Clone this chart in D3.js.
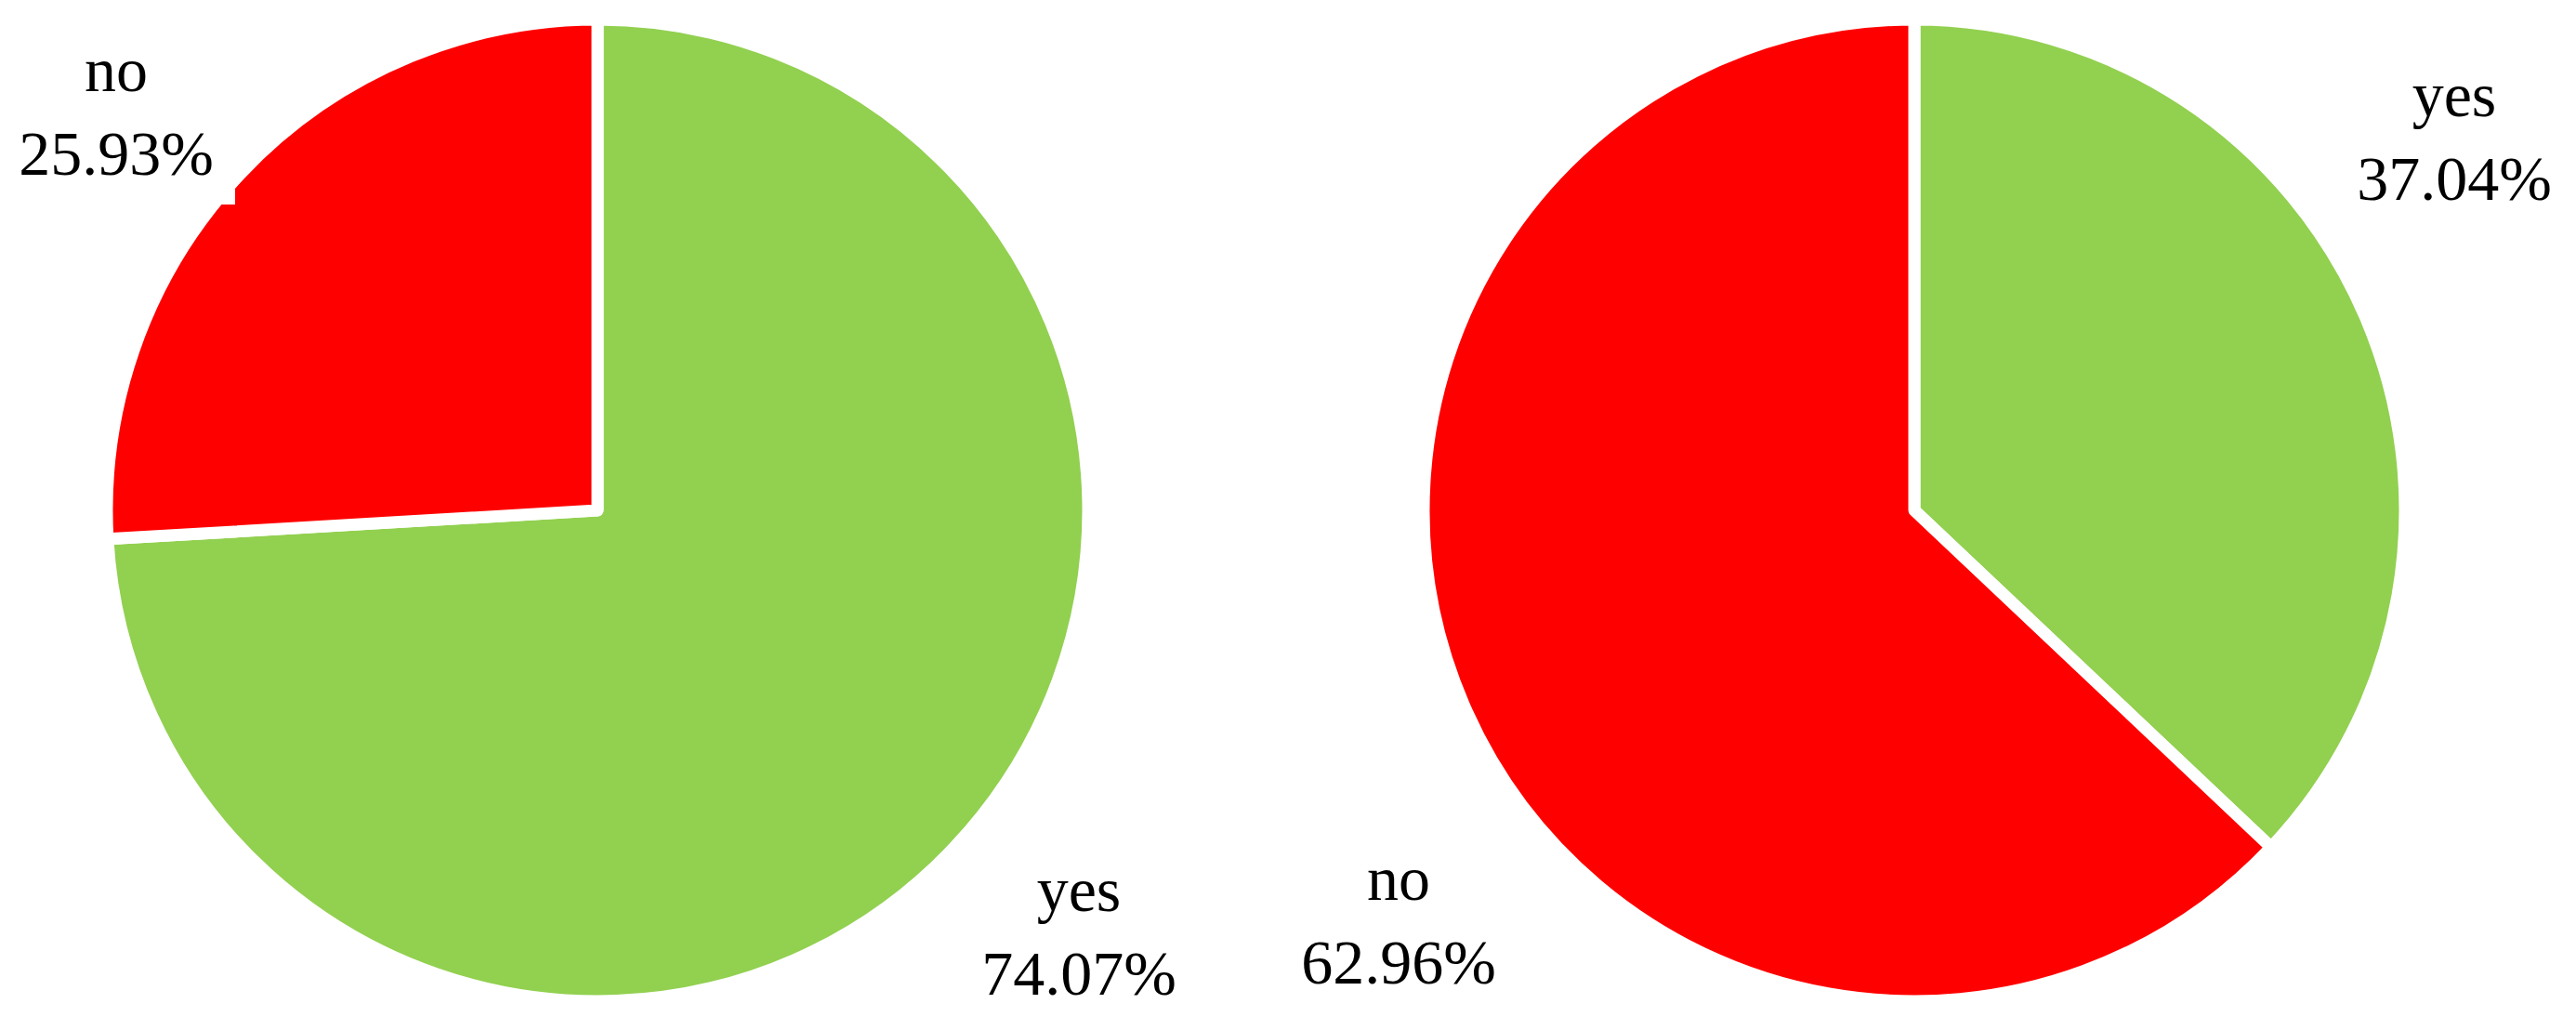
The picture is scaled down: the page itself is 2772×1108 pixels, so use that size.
<!DOCTYPE html>
<html lang="en">
<head>
    <meta charset="UTF-8">
    <title>yes / no pies</title>
    <style>
        body { margin: 0; background: #fff; }
        .slices path {
            stroke: #fff;
            stroke-width: 13px;
            stroke-linejoin: round;
        }
        .labels text {
            font-family: "Liberation Serif", "DejaVu Serif", serif;
            font-size: 68px;
            fill: #000;
        }
    </style>
</head>
<body>
    <script src="https://cdn.jsdelivr.net/npm/d3@7"></script>
    <script>
        var width = 2772;
        var height = 1108;

        // data
        var categories = ["yes", "no"];
        var leftValues = [74.07, 25.93];
        var rightValues = [37.04, 62.96];
        var colors = ["#92d050", "#ff0000"];

        // layout: pie centres and where each label sits (first-line baseline)
        var pies = [
            { values: leftValues, cx: 643, cy: 549,
              labels: [{ x: 1161, y: 980 }, { x: 125, y: 98, box: [10, 20, 243, 200] }] },
            { values: rightValues, cx: 2060, cy: 549,
              labels: [{ x: 2641, y: 125 }, { x: 1505, y: 968 }] }
        ];
        var radius = 528;
        var lineGap = 90;

        var svg = d3.select("body")
                    .append("svg")
                    .attr("width", width)
                    .attr("height", height);

        var pie = d3.pie().sort(null);
        var arc = d3.arc().innerRadius(0).outerRadius(radius);
        var color = d3.scaleOrdinal().domain(categories).range(colors);

        pies.forEach(function(p) {
            var g = svg.append("g")
                .attr("class", "slices")
                .attr("transform", "translate(" + p.cx + "," + p.cy + ")");

            g.selectAll("path")
                .data(pie(p.values))
                .enter()
                .append("path")
                .attr("d", arc)
                .attr("fill", function(d, i) { return color(categories[i]); });
        });

        // labels on top; the left "no" label has a white backing box that bites into the pie
        pies.forEach(function(p) {
            var lg = svg.append("g").attr("class", "labels");
            p.labels.forEach(function(l, i) {
                if (l.box) {
                    lg.append("rect")
                        .attr("x", l.box[0]).attr("y", l.box[1])
                        .attr("width", l.box[2]).attr("height", l.box[3])
                        .attr("fill", "#fff");
                }
                var t = lg.append("text")
                    .attr("text-anchor", "middle");
                t.append("tspan")
                    .attr("x", l.x).attr("y", l.y)
                    .text(categories[i]);
                t.append("tspan")
                    .attr("x", l.x).attr("y", l.y + lineGap)
                    .text(p.values[i].toFixed(2) + "%");
            });
        });
    </script>
</body>
</html>
